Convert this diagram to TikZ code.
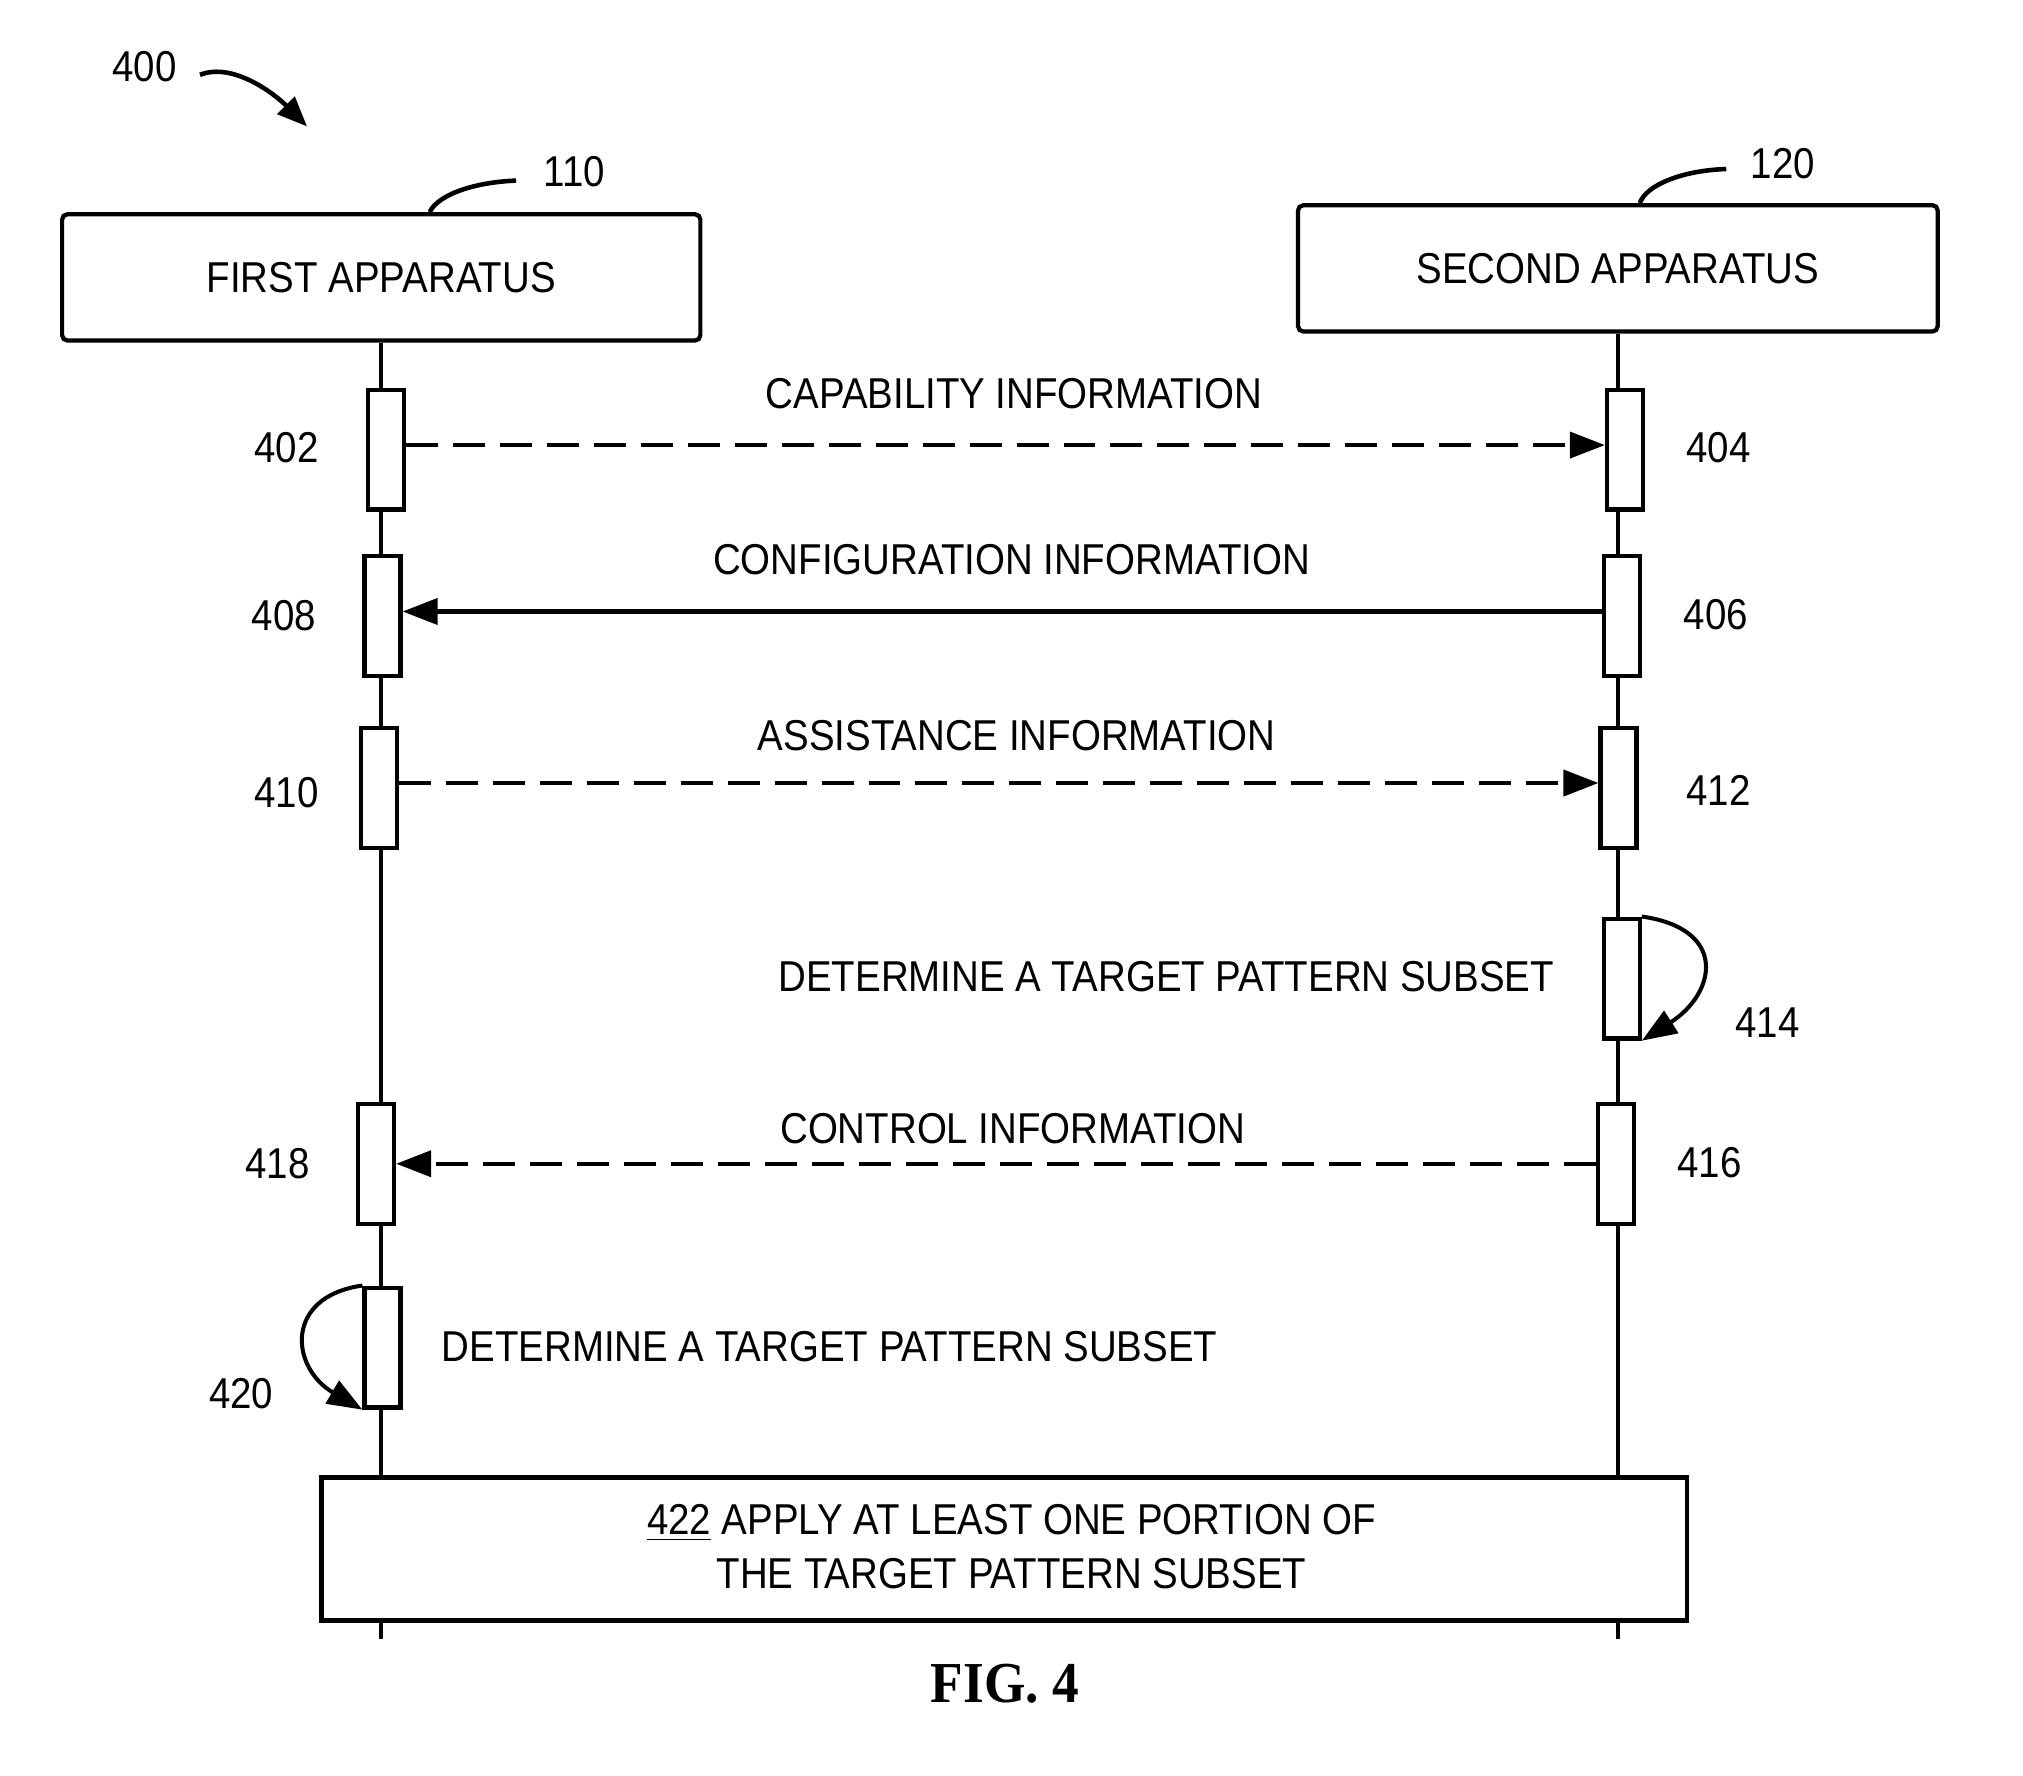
\documentclass[tikz,border=0pt]{standalone}
\usepackage{fontspec}
\setmainfont{Liberation Sans}[FakeStretch=0.89]
\newfontfamily\figfont{Liberation Serif}[FakeStretch=0.92]
\usetikzlibrary{arrows.meta}
\begin{document}
\begin{tikzpicture}[x=0.012902cm,y=-0.012902cm,
  lbl/.style={font=\fontsize{12.3}{15.4}\selectfont, inner sep=0pt},
  appbox/.style={draw, line width=1.2pt, rounded corners=1.5pt, fill=white, inner sep=0pt, font=\fontsize{12.3}{15.4}\selectfont},
  actbox/.style={draw, line width=1.2pt, fill=white, minimum width=0.36cm, minimum height=1.2cm, inner sep=0pt},
  life/.style={line width=1.15pt},
  tip/.style={-{Triangle[length=0.35cm,width=0.26cm]}},
  msg/.style={tip, line width=1.15pt},
  dmsg/.style={msg, dash pattern=on 0.32cm off 0.15cm},
  leader/.style={line width=1.3pt}
]
\useasboundingbox (0,0) rectangle (1568,1376);
% apparatus boxes
\node[appbox, minimum width=6.386cm, minimum height=1.264cm] (first) at (295.5,215) {FIRST APPARATUS};
\node[appbox, minimum width=6.40cm, minimum height=1.264cm] (second) at (1254,208) {SECOND APPARATUS};
% lifelines
\coordinate (lend) at (295,1270);
\coordinate (rend) at (1254,1270);
\draw[life] (first.south) -- (first.south |- lend);
\draw[life] (second.south) -- (second.south |- rend);
% activation boxes
\node[actbox] (b402) at (299,348.5) {};
\node[actbox] (b404) at (1259.5,348.5) {};
\node[actbox] (b408) at (296.5,477.5) {};
\node[actbox] (b406) at (1257,477.5) {};
\node[actbox] (b410) at (293.5,611) {};
\node[actbox] (b412) at (1254.5,611) {};
\node[actbox] (b414) at (1257,758.5) {};
\node[actbox] (b418) at (291.5,902) {};
\node[actbox] (b416) at (1252.5,902) {};
\node[actbox] (b420) at (296.5,1044.5) {};
% messages
\draw[dmsg] ([yshift=1.3pt]b402.east) -- ([yshift=1.3pt]b404.west);
\draw[msg] ([yshift=1.3pt]b406.west) -- ([yshift=1.3pt]b408.east);
\draw[dmsg] ([yshift=1.5pt]b410.east) -- ([yshift=1.5pt]b412.west);
\draw[dmsg] (b416.west) -- (b418.east);
% self loops
\draw[msg] (b414.north east) .. controls (1340,720) and (1330,770) .. (b414.south east);
\draw[msg] (b420.north west) .. controls (220,1005) and (225,1060) .. (b420.south west);
% message labels
\node[lbl] (tcap) at (786,305) {CAPABILITY INFORMATION};
\node[lbl] (tconf) at (784,434) {CONFIGURATION INFORMATION};
\node[lbl] (tass) at (788,570) {ASSISTANCE INFORMATION};
\node[lbl] (tdet1) at (904,757) {DETERMINE A TARGET PATTERN SUBSET};
\node[lbl] (tctl) at (785,875) {CONTROL INFORMATION};
\node[lbl] (tdet2) at (643,1044) {DETERMINE A TARGET PATTERN SUBSET};
% numeric labels
\node[lbl] (n402) at (222,347) {402};
\node[lbl] (n404) at (1332,347) {404};
\node[lbl] (n408) at (220,477) {408};
\node[lbl] (n406) at (1330,476) {406};
\node[lbl] (n410) at (222,614) {410};
\node[lbl] (n412) at (1332,613) {412};
\node[lbl] (n414) at (1370,793) {414};
\node[lbl] (n418) at (215,902) {418};
\node[lbl] (n416) at (1325,901) {416};
\node[lbl] (n420) at (187,1080) {420};
% reference labels and leaders
\node[lbl] (n400) at (112,52) {400};
\coordinate (a400s) at (155,58);
\coordinate (a400e) at (238,98);
\draw[leader, -{Triangle[length=0.3cm,width=0.24cm]}] (a400s) .. controls (180,48) and (212,72) .. (a400e);
\node[lbl] (n110) at (445,133) {110};
\coordinate (l110) at (400,140);
\coordinate (l110s) at (333,0);
\draw[leader] (l110s |- first.north) .. controls (340,150) and (370,141) .. (l110);
\node[lbl] (n120) at (1382,127) {120};
\coordinate (l120) at (1338,131);
\coordinate (l120s) at (1271,0);
\draw[leader] (l120s |- second.north) .. controls (1276,143) and (1305,132) .. (l120);
% bottom box
\node[draw, line width=1.4pt, fill=white, minimum width=13.66cm, minimum height=1.432cm, inner sep=0pt] (b422) at (778.5,1200.5) {};
\node[lbl, align=center] (t422) at (784,1199) {\underline{422} APPLY AT LEAST ONE PORTION OF\\THE TARGET PATTERN SUBSET};
% caption
\node[inner sep=0pt, font=\figfont\bfseries\fontsize{16.5}{18}\selectfont] (fig) at (779,1305) {FIG. 4};
\end{tikzpicture}
\end{document}
